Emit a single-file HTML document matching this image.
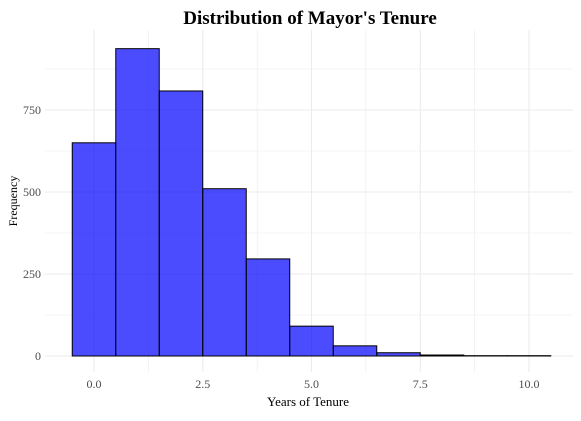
<!DOCTYPE html>
<html><head><meta charset="utf-8"><style>
body{margin:0;background:#fff;}
svg text{font-family:"Liberation Serif",serif;}
</style></head><body>
<svg id="chart" width="581" height="416">
<text x="310" y="24" text-anchor="middle" font-size="19" font-weight="bold" fill="#000">Distribution of Mayor's Tenure</text>
<g id="grid"></g><g id="bars"></g><g id="axes"></g>
<text x="308" y="406" text-anchor="middle" font-size="13" fill="#000">Years of Tenure</text>
<text transform="translate(17,201) rotate(-90)" text-anchor="middle" font-size="12" fill="#000">Frequency</text>
</svg>
<script>
const binCenters=[0,1,2,3,4,5,6,7,8,9,10];
const counts=[650,937,808,510,296,91,31,10,3,1,1];
const xTicks=[0,2.5,5,7.5,10];
const xTickLabels=["0.0","2.5","5.0","7.5","10.0"];
const yTicks=[0,250,500,750];
const yTickLabels=["0","250","500","750"];
const ns="http://www.w3.org/2000/svg";
const X=v=>94+v*43.5, Y=v=>356-v*0.328;
const L=45,R=573,T=30,B=372;
function mk(t,a,p){const e=document.createElementNS(ns,t);for(const k in a)e.setAttribute(k,a[k]);p.appendChild(e);return e;}
const g=document.getElementById('grid'),b=document.getElementById('bars'),ax=document.getElementById('axes');
for(let v=-1.25;v<=11;v+=1.25){const x=X(v);if(x<L||x>R)continue;const l=mk('line',{x1:x,x2:x,y1:T,y2:B,stroke:'#ebebeb','stroke-width':(Math.round(v/1.25)%2? 0.6:1.1)},g);

}
for(let v=0;v<=1000;v+=125){const y=Y(v);if(y<T)continue;const l=mk('line',{x1:L,x2:R,y1:y,y2:y,stroke:'#ebebeb','stroke-width':(v%250?0.6:1.1)},g);

}
binCenters.forEach((c,i)=>{const x0=X(c-0.5),x1=X(c+0.5),y=Y(counts[i]);
const r=mk('rect',{x:x0,y:y,width:x1-x0,height:Y(0)-y,fill:'rgba(0,0,255,0.7)',stroke:'#000','stroke-width':1},b);

});
xTicks.forEach((v,i)=>{const t=mk('text',{x:X(v),y:388,'text-anchor':'middle','font-size':12,fill:'#4d4d4d'},ax);t.textContent=xTickLabels[i];

});
yTicks.forEach((v,i)=>{const t=mk('text',{x:41,y:Y(v)+4,'text-anchor':'end','font-size':12,fill:'#4d4d4d'},ax);t.textContent=yTickLabels[i];

});
</script>
</body></html>
